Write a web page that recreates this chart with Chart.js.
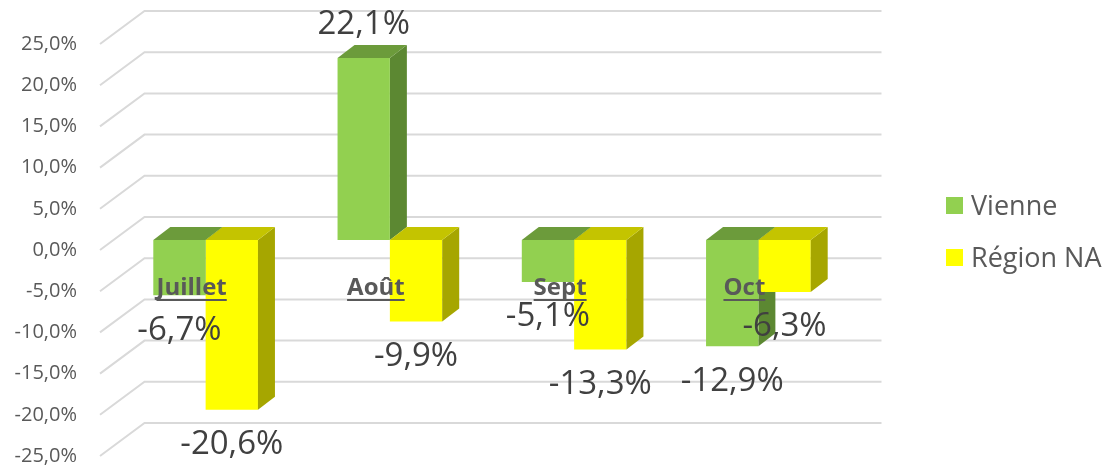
<!DOCTYPE html>
<html>
<head>
<meta charset="utf-8">
<script src="https://cdn.jsdelivr.net/npm/chart.js@4.4.1/dist/chart.umd.min.js"></script>
<style>
  html, body { margin: 0; padding: 0; background: #fff; }
  #wrap { width: 1109px; height: 466px; }
</style>
</head>
<body>
<div id="wrap"><canvas id="chart" width="1109" height="466"></canvas></div>
<script>
const months = ['Juillet', 'Août', 'Sept', 'Oct'];
const vienne = [-6.7, 22.1, -5.1, -12.9];
const regionNA = [-20.6, -9.9, -13.3, -6.3];
const seriesNames = ['Vienne', 'Région NA'];

const FONT = '"Open Sans", "Liberation Sans", sans-serif';
const GREY = '#595959';

// 3D look: front colour, top face, side face
const shades = [
    { front: '#92d050', top: '#6c9b3b', side: '#5c8832' },
    { front: '#ffff00', top: '#c4c400', side: '#a6a600' }
];
const DEPTH_X = 17;
const DEPTH_Y = -13;

function pct(v) {
    return v.toFixed(1).replace('.', ',') + '%';
}

function drawBox(ctx, bar, shade) {
    const left = bar.x - bar.width / 2;
    const right = bar.x + bar.width / 2;
    const top = Math.min(bar.y, bar.base);
    const bottom = Math.max(bar.y, bar.base);

    // right side
    ctx.fillStyle = shade.side;
    ctx.beginPath();
    ctx.moveTo(right, top);
    ctx.lineTo(right + DEPTH_X, top + DEPTH_Y);
    ctx.lineTo(right + DEPTH_X, bottom + DEPTH_Y);
    ctx.lineTo(right, bottom);
    ctx.closePath();
    ctx.fill();

    // top
    ctx.fillStyle = shade.top;
    ctx.beginPath();
    ctx.moveTo(left, top);
    ctx.lineTo(right, top);
    ctx.lineTo(right + DEPTH_X, top + DEPTH_Y);
    ctx.lineTo(left + DEPTH_X, top + DEPTH_Y);
    ctx.closePath();
    ctx.fill();
}

const threeD = {
    id: 'threeD',
    beforeDatasetsDraw(chart) {
        const ctx = chart.ctx;
        const area = chart.chartArea;
        const y = chart.scales.y;

        // floor/back wall gridlines
        ctx.save();
        ctx.strokeStyle = '#d9d9d9';
        ctx.lineWidth = 2;
        y.ticks.forEach(t => {
            const py = y.getPixelForValue(t.value);
            ctx.beginPath();
            ctx.moveTo(area.left - 13.5, py + 10);
            ctx.lineTo(area.left + 31, py - 23);
            ctx.lineTo(area.right + 31, py - 23);
            ctx.stroke();
        });

        // first series sits behind the second one
        chart.getDatasetMeta(0).data.forEach(bar => drawBox(ctx, bar, shades[0]));
        ctx.restore();
    },
    afterDatasetsDraw(chart) {
        const ctx = chart.ctx;
        ctx.save();
        chart.getDatasetMeta(1).data.forEach(bar => drawBox(ctx, bar, shades[1]));

        // month labels, bold and underlined
        const x = chart.scales.x;
        ctx.font = 'bold 24px ' + FONT;
        ctx.fillStyle = GREY;
        ctx.strokeStyle = GREY;
        ctx.lineWidth = 2;
        ctx.textAlign = 'center';
        ctx.textBaseline = 'alphabetic';
        months.forEach((m, i) => {
            const cx = x.getPixelForValue(i) - 14;
            ctx.fillText(m, cx, 295);
            const w = ctx.measureText(m).width;
            ctx.beginPath();
            ctx.moveTo(cx - w / 2, 300);
            ctx.lineTo(cx + w / 2, 300);
            ctx.stroke();
        });

        // value labels
        ctx.font = '33px ' + FONT;
        ctx.fillStyle = '#404040';
        ctx.textBaseline = 'middle';
        chart.data.datasets.forEach((ds, d) => {
            chart.getDatasetMeta(d).data.forEach((bar, i) => {
                const v = ds.data[i];
                const ty = v < 0 ? bar.y + 35 : bar.y - 33;
                ctx.fillText(pct(v), bar.x, ty);
            });
        });

        // legend
        ctx.font = '27px ' + FONT;
        ctx.textAlign = 'left';
        chart.data.datasets.forEach((ds, d) => {
            const my = 206 + d * 52;
            ctx.fillStyle = ds.backgroundColor;
            ctx.fillRect(946, my - 9, 17, 17);
            ctx.fillStyle = GREY;
            ctx.fillText(ds.label, 971, my + 1);
        });
        ctx.restore();
    }
};

new Chart(document.getElementById('chart'), {
    type: 'bar',
    data: {
        labels: months,
        datasets: [
            { label: seriesNames[0], data: vienne, backgroundColor: shades[0].front },
            { label: seriesNames[1], data: regionNA, backgroundColor: shades[1].front }
        ]
    },
    options: {
        responsive: false,
        animation: false,
        devicePixelRatio: 1,
        layout: { padding: { top: 34, bottom: 20, left: 0, right: 258.5 } },
        datasets: {
            bar: { barPercentage: 1, categoryPercentage: 0.568, borderWidth: 0 }
        },
        plugins: {
            legend: { display: false },
            tooltip: { enabled: false }
        },
        scales: {
            x: { display: false },
            y: {
                min: -25,
                max: 25,
                border: { display: false },
                grid: { display: false, drawTicks: false },
                ticks: {
                    stepSize: 5,
                    padding: 36.5,
                    labelOffset: 10,
                    color: GREY,
                    font: { family: FONT, size: 20 },
                    callback: v => pct(v)
                },
                afterFit(scale) {
                    scale.width = 113.5;
                    scale.paddingTop = 0;
                    scale.paddingBottom = 0;
                }
            }
        }
    },
    plugins: [threeD]
});
</script>
</body>
</html>
